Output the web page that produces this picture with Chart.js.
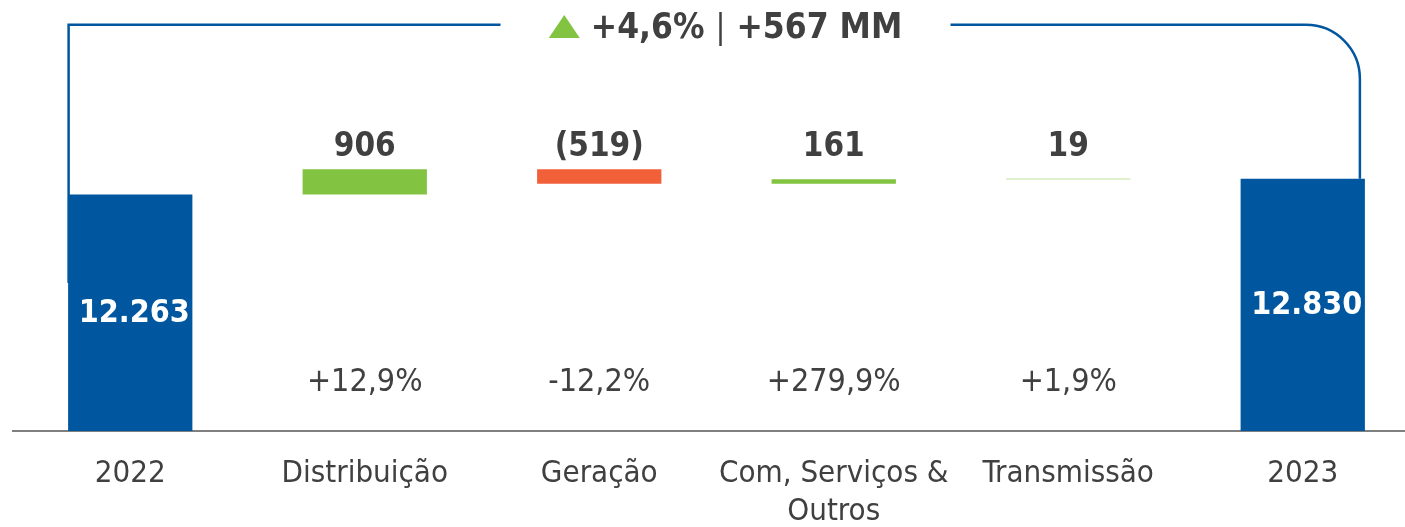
<!DOCTYPE html>
<html>
<head>
<meta charset="utf-8">
<script src="https://cdn.jsdelivr.net/npm/chart.js@4.4.1/dist/chart.umd.min.js"></script>
<style>
  html, body { margin: 0; padding: 0; background: #fff; overflow: hidden; }
  #wrap { position: relative; width: 1420px; height: 555px; }
</style>
</head>
<body>
<div id="wrap"><canvas id="chart"></canvas></div>
<script>
const categories = ["2022", "Distribuição", "Geração", ["Com, Serviços &", "Outros"], "Transmissão", "2023"]
const startTotal = 12263
const endTotal = 12830
const changes = [906, -519, 161, 19]
const valueLabels = ["12.263", "906", "(519)", "161", "19", "12.830"]
const pctLabels = ["", "+12,9%", "-12,2%", "+279,9%", "+1,9%", ""]
const headline = ["+4,6%", "+567 MM"]

const BLUE = "#00579f"
const GREEN = "#82c341"
const ORANGE = "#f2603a"
const TEXT = "#404040"
const FONT = "'DejaVu Sans Condensed', 'DejaVu Sans', sans-serif"

// waterfall: totals stand on the axis, the steps float
const barData = [startTotal]
const barColors = [BLUE]
let running = startTotal
changes.forEach(c => {
  barData.push([running, running + c])
  barColors.push(c >= 0 ? GREEN : ORANGE)
  running += c
})
barData.push(endTotal)
barColors.push(BLUE)

const overlay = {
  id: "overlay",
  afterDatasetsDraw(chart) {
    const { ctx, chartArea, scales: { y } } = chart
    const bars = chart.getDatasetMeta(0).data
    const first = bars[0]
    const last = bars[bars.length - 1]

    ctx.save()

    // bracket from 2022 to 2023
    const lx = first.x - first.width / 2 + 0.5
    const rx = last.x + last.width / 2 - 5
    const ty = 24.7
    const r = 54
    const cx = (chartArea.left + chartArea.right) / 2 + 9
    ctx.strokeStyle = BLUE
    ctx.lineWidth = 2.5
    ctx.beginPath()
    ctx.moveTo(lx, 283)
    ctx.lineTo(lx, ty)
    ctx.lineTo(cx - 225, ty)
    ctx.moveTo(cx + 225, ty)
    ctx.lineTo(rx - r, ty)
    ctx.arcTo(rx, ty, rx, ty + r, r)
    ctx.lineTo(rx, last.y)
    ctx.stroke()

    // headline
    ctx.textBaseline = "middle"
    ctx.textAlign = "left"
    ctx.font = "bold 35px " + FONT
    const w1 = ctx.measureText(headline[0]).width
    const w2 = ctx.measureText(headline[1]).width
    ctx.font = "33px " + FONT
    const wp = ctx.measureText("|").width
    const tri = 31, gap = 11, pgap = 11
    const total = tri + gap + w1 + pgap + wp + pgap + w2
    let x = cx - total / 2
    const hy = 29
    ctx.fillStyle = GREEN
    ctx.beginPath()
    ctx.moveTo(x, 38)
    ctx.lineTo(x + tri / 2, 15)
    ctx.lineTo(x + tri, 38)
    ctx.closePath()
    ctx.fill()
    x += tri + gap
    ctx.fillStyle = TEXT
    ctx.font = "bold 35px " + FONT
    ctx.fillText(headline[0], x, hy)
    x += w1 + pgap
    ctx.font = "33px " + FONT
    ctx.fillText("|", x, hy)
    x += wp + pgap
    ctx.font = "bold 35px " + FONT
    ctx.fillText(headline[1], x, hy)

    // values
    ctx.textAlign = "center"
    const stepTop = y.getPixelForValue(Math.max(...barData.slice(1, -1).flat())) - 22
    bars.forEach((bar, i) => {
      if (i === 0 || i === bars.length - 1) {
        const base = Math.min(bar.base, chartArea.bottom)
        ctx.fillStyle = "#ffffff"
        ctx.font = "bold 32px " + FONT
        ctx.fillText(valueLabels[i], bar.x + 4, (bar.y + base) / 2 + 1)
      } else {
        ctx.fillStyle = TEXT
        ctx.font = "bold 33px " + FONT
        ctx.fillText(valueLabels[i], bar.x, stepTop)
        ctx.font = "32px " + FONT
        ctx.fillText(pctLabels[i], bar.x, chartArea.bottom - 48)
      }
    })

    ctx.restore()
  }
}

new Chart(document.getElementById("chart"), {
  type: "bar",
  data: {
    labels: categories,
    datasets: [{
      data: barData,
      backgroundColor: barColors,
      borderWidth: 0,
      barPercentage: 0.53,
      categoryPercentage: 1
    }]
  },
  options: {
    responsive: true,
    maintainAspectRatio: false,
    animation: false,
    layout: { padding: { left: 13, right: 0, top: 0, bottom: 0 } },
    plugins: {
      legend: { display: false },
      tooltip: { enabled: false }
    },
    scales: {
      x: {
        grid: { display: false, drawTicks: false },
        border: { display: true, color: "#7f7f7f", width: 2 },
        ticks: {
          color: TEXT,
          font: { family: FONT, size: 31, lineHeight: 1.226 },
          padding: 24,
          maxRotation: 0,
          autoSkip: false
        }
      },
      y: { display: false, min: 3770, max: 19250 }
    }
  },
  plugins: [overlay]
})
</script>
</body>
</html>
